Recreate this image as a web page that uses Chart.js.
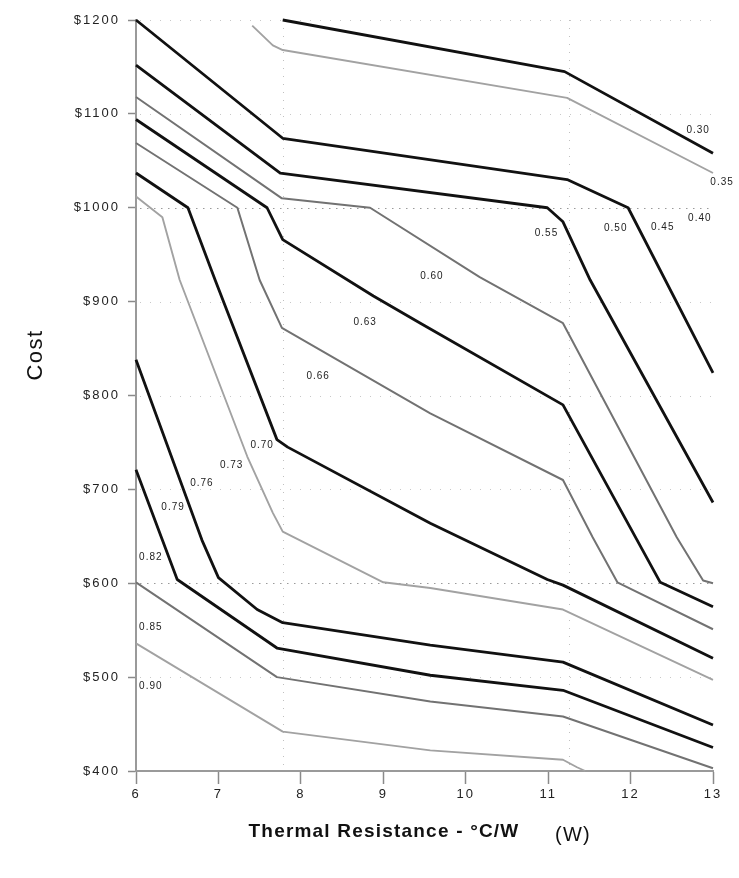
<!DOCTYPE html>
<html>
<head>
<meta charset="utf-8">
<script src="https://cdn.jsdelivr.net/npm/chart.js@4.4.1/dist/chart.umd.min.js"></script>
<style>
  html, body { margin: 0; padding: 0; background: #fff; }
  canvas { display: block; }
</style>
</head>
<body>
<canvas id="chart" width="739" height="878"></canvas>
<script>
// Cost against thermal resistance: lines of constant level across the design space.

// Axis ticks
const xTickValues = [6, 7, 8, 9, 10, 11, 12, 13];
const yTickValues = [400, 500, 600, 700, 800, 900, 1000, 1100, 1200];

// Level lines (thermal resistance, cost)
const l030x = [7.78, 11.20, 13.00];
const l030y = [1200, 1145, 1058];

const l035x = [7.41, 7.66, 7.78, 11.23, 13.00];
const l035y = [1194, 1173, 1168, 1117, 1037];

const l050x = [6.00, 7.78, 11.23, 11.97, 13.00];
const l050y = [1200, 1074, 1030, 1000, 824];

const l055x = [6.00, 7.75, 10.99, 11.18, 11.51, 13.00];
const l055y = [1152, 1037, 1000, 985, 923, 686];

const l060x = [6.00, 7.77, 8.84, 10.17, 11.18, 12.56, 12.88, 13.00];
const l060y = [1118, 1010, 1000, 926, 877, 649, 603, 600];

const l063x = [6.00, 7.59, 7.78, 8.88, 9.45, 11.18, 12.36, 13.00];
const l063y = [1094, 1000, 966, 906, 877, 790, 601, 575];

const l066x = [6.00, 7.23, 7.50, 7.77, 9.57, 11.18, 11.54, 11.84, 13.00];
const l066y = [1069, 1000, 923, 872, 781, 710, 649, 601, 551];

const l070x = [6.00, 6.63, 6.96, 7.71, 7.84, 9.57, 10.99, 11.18, 13.00];
const l070y = [1037, 1000, 923, 753, 745, 664, 604, 598, 520];

const l073x = [6.00, 6.32, 6.53, 7.35, 7.66, 7.78, 9.00, 9.57, 11.18, 13.00];
const l073y = [1012, 990, 923, 735, 675, 655, 601, 595, 572, 497];

const l076x = [6.00, 6.80, 7.00, 7.47, 7.78, 9.57, 11.18, 13.00];
const l076y = [838, 646, 606, 572, 558, 534, 516, 449];

const l079x = [6.00, 6.32, 6.50, 7.71, 9.57, 11.18, 13.00];
const l079y = [721, 646, 604, 531, 502, 486, 425];

const l085x = [6.00, 7.71, 9.57, 11.18, 13.00];
const l085y = [601, 500, 474, 458, 403];

const l090x = [6.00, 7.78, 9.57, 11.18, 11.35, 11.45];
const l090y = [536, 442, 422, 412, 404, 400];

// Level annotations (text and anchor in data units)
const levelText = ['0.30', '0.35', '0.40', '0.45', '0.50', '0.55', '0.60', '0.63',
                   '0.66', '0.70', '0.73', '0.76', '0.79', '0.82', '0.85', '0.90'];
const levelAtX  = [12.82, 13.11, 12.84, 12.39, 11.82, 10.98, 9.59, 8.78,
                   8.21, 7.53, 7.16, 6.80, 6.45, 6.18, 6.18, 6.18];
const levelAtY  = [1083, 1027, 989, 979, 978, 973, 927, 878,
                   820, 747, 726, 706, 681, 628, 553, 490];

// Dotted reference lines
const majorGridY = [600, 1000];
const minorGridY = [500, 700, 800, 900, 1100, 1200];
const gridX = [7.78, 11.25];

const FONT = '"Liberation Sans", Arial, Helvetica, sans-serif';

const pts = (xs, ys) => xs.map((x, i) => ({ x: x, y: ys[i] }));

const BLACK = { borderColor: '#111111', borderWidth: 2.8 };
const DARK_GRAY = { borderColor: '#727272', borderWidth: 2.0 };
const LIGHT_GRAY = { borderColor: '#a2a2a2', borderWidth: 1.9 };

const lineSpecs = [
  ['0.30', l030x, l030y, BLACK],
  ['0.35', l035x, l035y, LIGHT_GRAY],
  ['0.50', l050x, l050y, BLACK],
  ['0.55', l055x, l055y, BLACK],
  ['0.60', l060x, l060y, DARK_GRAY],
  ['0.63', l063x, l063y, BLACK],
  ['0.66', l066x, l066y, DARK_GRAY],
  ['0.70', l070x, l070y, BLACK],
  ['0.73', l073x, l073y, LIGHT_GRAY],
  ['0.76', l076x, l076y, BLACK],
  ['0.79', l079x, l079y, BLACK],
  ['0.85', l085x, l085y, DARK_GRAY],
  ['0.90', l090x, l090y, LIGHT_GRAY]
];

const datasets = lineSpecs.map(([name, xs, ys, style]) => ({
  label: name,
  data: pts(xs, ys),
  showLine: true,
  fill: false,
  tension: 0,
  pointRadius: 0,
  pointHoverRadius: 0,
  borderJoinStyle: 'round',
  borderCapStyle: 'butt',
  clip: 4,
  borderColor: style.borderColor,
  borderWidth: style.borderWidth
}));

// Dotted grid behind the lines
const dottedGrid = {
  id: 'dottedGrid',
  beforeDatasetsDraw(chart) {
    const { ctx, chartArea: a, scales: { x, y } } = chart;
    ctx.save();
    ctx.lineWidth = 1;
    const hLine = (v, color, dash) => {
      const py = Math.round(y.getPixelForValue(v)) + 0.5;
      ctx.strokeStyle = color;
      ctx.setLineDash(dash);
      ctx.beginPath();
      ctx.moveTo(a.left + 4, py);
      ctx.lineTo(a.right, py);
      ctx.stroke();
    };
    minorGridY.forEach(v => hLine(v, '#c8c8c8', [1, 9]));
    majorGridY.forEach(v => hLine(v, '#9a9a9a', [1.5, 5.5]));
    gridX.forEach(v => {
      const px = Math.round(x.getPixelForValue(v)) + 0.5;
      ctx.strokeStyle = '#c0c0c0';
      ctx.setLineDash([1, 7]);
      ctx.beginPath();
      ctx.moveTo(px, a.top);
      ctx.lineTo(px, a.bottom);
      ctx.stroke();
    });
    ctx.restore();
  },
  beforeDraw(chart) {
    chart.ctx.letterSpacing = '2px';
  }
};

// Level numbers and axis titles
const annotations = {
  id: 'annotations',
  afterDraw(chart) {
    const { ctx, scales: { x, y } } = chart;
    ctx.save();
    ctx.fillStyle = '#222';
    ctx.textAlign = 'center';
    ctx.textBaseline = 'middle';
    ctx.letterSpacing = '1px';
    ctx.font = '10px ' + FONT;
    levelText.forEach((t, i) => {
      ctx.fillText(t, x.getPixelForValue(levelAtX[i]), y.getPixelForValue(levelAtY[i]));
    });

    ctx.fillStyle = '#111';
    ctx.letterSpacing = '1.2px';
    ctx.font = 'bold 19px ' + FONT;
    ctx.fillText('Thermal Resistance - \u00B0C/W', 384, 832);
    ctx.font = '20px ' + FONT;
    ctx.fillText('(W)', 573, 835);

    ctx.translate(36, 355);
    ctx.rotate(-Math.PI / 2);
    ctx.letterSpacing = '1.5px';
    ctx.font = '22px ' + FONT;
    ctx.fillText('Cost', 0, 0);
    ctx.restore();
  }
};

new Chart(document.getElementById('chart'), {
  type: 'scatter',
  data: { datasets },
  options: {
    responsive: false,
    animation: false,
    devicePixelRatio: 1,
    layout: { padding: { top: 20, right: 26, left: 0, bottom: 0 } },
    plugins: {
      legend: { display: false },
      tooltip: { enabled: false },
      title: { display: false }
    },
    scales: {
      x: {
        type: 'linear',
        min: 6,
        max: 13,
        afterBuildTicks: s => { s.ticks = xTickValues.map(v => ({ value: v })); },
        afterFit: s => { s.height = 107; },
        grid: {
          drawOnChartArea: false,
          drawTicks: true,
          tickLength: 13,
          tickColor: '#8a8a8a',
          tickWidth: 1.5
        },
        border: { display: true, color: '#9a9a9a', width: 2 },
        ticks: {
          padding: 3,
          color: '#222',
          font: { family: FONT, size: 13 },
          maxRotation: 0
        },
        title: { display: false }
      },
      y: {
        type: 'linear',
        min: 400,
        max: 1200,
        afterBuildTicks: s => { s.ticks = yTickValues.map(v => ({ value: v })); },
        afterFit: s => { s.width = 136; },
        grid: {
          drawOnChartArea: false,
          drawTicks: true,
          tickLength: 8,
          tickColor: '#8a8a8a',
          tickWidth: 1.5
        },
        border: { display: true, color: '#9a9a9a', width: 2 },
        ticks: {
          padding: 8,
          color: '#222',
          font: { family: FONT, size: 13 },
          callback: v => '$' + v
        },
        title: { display: false }
      }
    }
  },
  plugins: [dottedGrid, annotations]
});
</script>
</body>
</html>
